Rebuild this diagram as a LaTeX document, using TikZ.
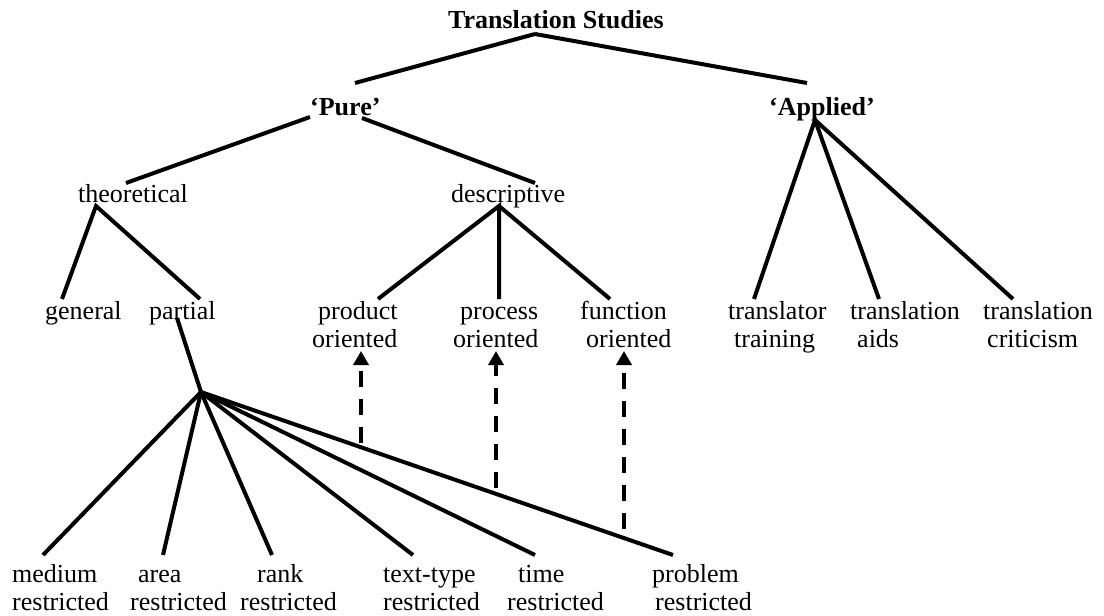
\documentclass[tikz,border=0pt]{standalone}
\usepackage{fontspec}
\setmainfont{Liberation Serif}
\usetikzlibrary{arrows.meta}
% two-line label whose anchor "base" is the baseline of its first line
\newcommand\twoline[2]{\begin{tabular}[t]{@{}#1@{}}#2\end{tabular}}
\begin{document}
\begin{tikzpicture}[x=1pt,y=-1pt,
  lbl/.style={inner sep=0pt, anchor=base west, font=\fontsize{26}{28.5}\selectfont},
  branch/.style={line width=4pt},
  link/.style={line width=4pt, dash pattern=on 16pt off 12pt,
    -{Triangle[width=15pt,length=14pt]}},
]
\useasboundingbox (0,0) rectangle (1104,616);

% ---- labels ----
\node[lbl] (ts) at (448,28) {\bfseries Translation Studies};
\node[lbl] (pure) at (310,115) {\bfseries ‘Pure’};
\node[lbl] (applied) at (769,115) {\bfseries ‘Applied’};
\node[lbl] (theo) at (78,202) {theoretical};
\node[lbl] (desc) at (451,202) {descriptive};
\node[lbl] (general) at (45,319) {general};
\node[lbl] (partial) at (149,319) {partial};
\node[lbl] (product) at (312,319) {\twoline{l}{\hspace*{6pt}product\\oriented}};
\node[lbl] (process) at (453,319) {\twoline{l}{\hspace*{7pt}process\\oriented}};
\node[lbl] (function) at (580,319) {\twoline{l}{function\\\hspace*{6pt}oriented}};
\node[lbl] (trainer) at (728,319) {\twoline{l}{translator\\\hspace*{6pt}training}};
\node[lbl] (aids) at (850,319) {\twoline{l}{translation\\\hspace*{7pt}aids}};
\node[lbl] (critic) at (983,319) {\twoline{l}{translation\\\hspace*{4pt}criticism}};
\node[lbl] (medium) at (12,582) {\twoline{l}{medium\\restricted}};
\node[lbl] (area) at (130,582) {\twoline{l}{\hspace*{8pt}area\\restricted}};
\node[lbl] (rank) at (240,582) {\twoline{l}{\hspace*{17pt}rank\\restricted}};
\node[lbl] (texttype) at (383,582) {\twoline{l}{text-type\\restricted}};
\node[lbl] (time) at (507,582) {\twoline{l}{\hspace*{11pt}time\\restricted}};
\node[lbl] (problem) at (652,582) {\twoline{l}{problem\\\hspace*{3pt}restricted}};

% junction of the partial branches
\coordinate (hub) at (201,392);

% ---- tree branches ----
\draw[branch] ([shift={(87,6)}]ts.base west) -- ([shift={(45,-32)}]pure.base west);
\draw[branch] ([shift={(87,6)}]ts.base west) -- ([shift={(38,-32)}]applied.base west);
\draw[branch] ([shift={(0,2)}]pure.base west) -- ([shift={(48,-19)}]theo.base west);
\draw[branch] ([shift={(52,3)}]pure.base west) -- ([shift={(84,-19)}]desc.base west);

\draw[branch] ([shift={(17,-20)}]general.base west) -- ([shift={(18,4)}]theo.base west)
  -- ([shift={(51,-20)}]partial.base west);

\draw[branch] ([shift={(66,-20)}]product.base west) -- ([shift={(48,4)}]desc.base west)
  -- ([shift={(46,-20)}]process.base west);
\draw[branch] ([shift={(48,4)}]desc.base west) -- ([shift={(30,-20)}]function.base west);

\draw[branch] ([shift={(26,-20)}]trainer.base west) -- ([shift={(46,5)}]applied.base west)
  -- ([shift={(29,-20)}]aids.base west);
\draw[branch] ([shift={(46,5)}]applied.base west) -- ([shift={(30,-20)}]critic.base west);

\draw[branch] ([shift={(28,-1)}]partial.base west) -- (hub);
\foreach \n/\dx in {medium/31, area/33, rank/32, texttype/30, time/28, problem/21}
  \draw[branch] (hub) -- ([shift={(\dx,-27)}]\n.base west);

% ---- dashed links up to the descriptive branches ----
\coordinate (d1) at (361,443);
\coordinate (d2) at (496,488);
\coordinate (d3) at (624,529);
\draw[link] (d1) -- ([shift={(49,32)}]product.base west);
\draw[link] (d2) -- ([shift={(43,32)}]process.base west);
\draw[link] (d3) -- ([shift={(44,32)}]function.base west);
\end{tikzpicture}
\end{document}
